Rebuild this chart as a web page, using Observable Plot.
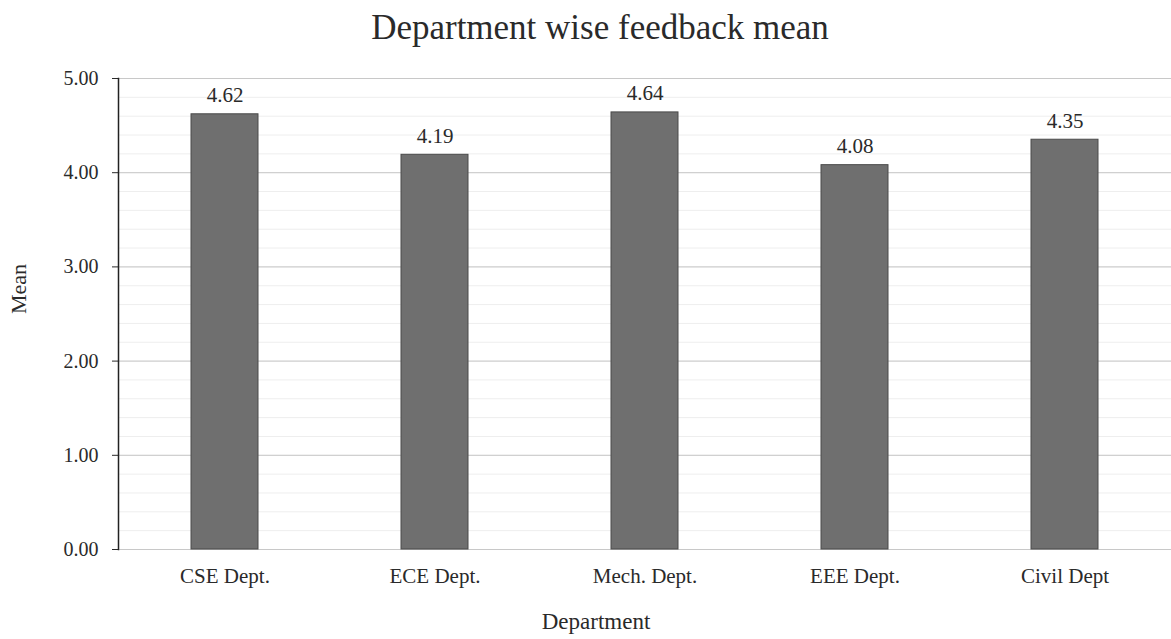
<!DOCTYPE html>
<html>
<head>
<meta charset="utf-8">
<script src="https://cdn.jsdelivr.net/npm/d3@7"></script>
<script src="https://cdn.jsdelivr.net/npm/@observablehq/plot@0.6"></script>
<style>
  html, body { margin: 0; padding: 0; background: #fff; overflow: hidden; }
  #wrap { position: relative; width: 1171px; height: 639px; font-family: "Liberation Serif", "DejaVu Serif", serif; color: #2a2a2a; }
  #title { position: absolute; left: 0; top: 6px; width: 1200px; text-align: center; font-size: 35px; line-height: 44px; }
  #chart { position: absolute; left: 0; top: 50px; }
  #caption { position: absolute; left: 0; top: 606px; width: 1192px; text-align: center; font-size: 23px; line-height: 32px; }
</style>
</head>
<body>
<div id="wrap">
  <div id="title">Department wise feedback mean</div>
  <div id="chart"></div>
  <div id="caption">Department</div>
</div>
<script>
const departments = ["CSE Dept.", "ECE Dept.", "Mech. Dept.", "EEE Dept.", "Civil Dept"];
const means = [4.62, 4.19, 4.64, 4.08, 4.35];
const yTicks = [0, 1, 2, 3, 4, 5];
const yMinor = d3.range(0, 5.01, 0.2);

const data = departments.map((d, i) => ({dept: departments[i], mean: means[i]}));

const chart = Plot.plot({
  width: 1171,
  height: 550,
  marginTop: 28,
  marginBottom: 51,
  marginLeft: 118,
  marginRight: 0,
  style: {fontFamily: "'Liberation Serif', serif", fontSize: "20px", color: "#2a2a2a", background: "transparent"},
  x: {domain: departments, paddingInner: 0.68, paddingOuter: 0.34, label: null},
  y: {domain: [0, 5], label: null},
  marks: [
    Plot.ruleY(yMinor, {stroke: "#eeeeee", strokeWidth: 1}),
    Plot.ruleY(yTicks, {stroke: "#c8c8c8", strokeWidth: 1}),
    Plot.barY(data, {x: "dept", y: "mean", fill: "#6f6f6f", stroke: "#4a4a4a", strokeWidth: 1}),
    Plot.text(data, {x: "dept", y: "mean", text: d => d.mean.toFixed(2), lineAnchor: "bottom", dy: -12, fontSize: 21, fontFamily: "'Liberation Serif', serif", fill: "#2a2a2a"}),
    Plot.axisY({ticks: yTicks, tickFormat: d => d.toFixed(2), tickSize: 6, tickPadding: 14, fontSize: 20, fontFamily: "'Liberation Serif', serif",
      label: null}),
    Plot.text(["Mean"], {frameAnchor: "left", dx: -100, rotate: -90, fontSize: 22, fontFamily: "'Liberation Serif', serif", fill: "#2a2a2a"}),
    Plot.frame({anchor: "left", stroke: "#222", strokeWidth: 1.5}),
    Plot.axisX({tickSize: 0, tickPadding: 19, fontSize: 21, fontFamily: "'Liberation Serif', serif", label: null})
  ]
});
document.getElementById("chart").appendChild(chart);
</script>
</body>
</html>
